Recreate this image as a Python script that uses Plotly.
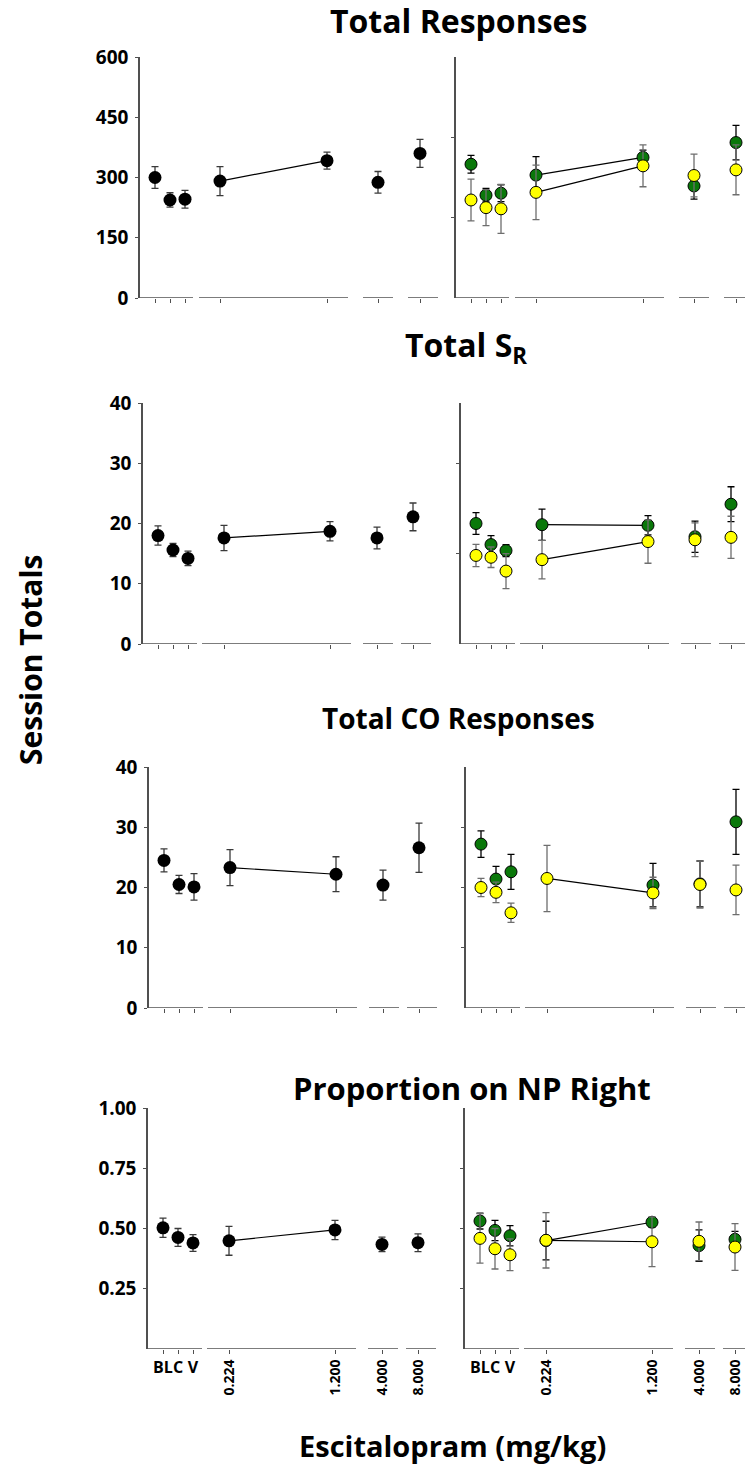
import plotly.graph_objects as go

W, H = 745, 1475

# ---------------- data ----------------
categories = ["BL", "C", "V", "0.224", "1.200", "4.000", "8.000"]
base_labels = categories[:3]
dose_labels = categories[3:]

panel_titles = ["Total Responses", "Total S<sub>R</sub>", "Total CO Responses", "Proportion on NP Right"]

# Total Responses
resp_black = [300, 244, 246, 291, 342, 288, 360]
resp_black_err = [27, 18, 22, 36, 21, 27, 35]
resp_green = [333, 256, 261, 306, 350, 279, 387]
resp_green_err = [22, 17, 21, 46, 18, 33, 43]
resp_yellow = [244, 225, 222, 263, 329, 305, 319]
resp_yellow_err = [52, 45, 61, 68, 52, 53, 62]

# Total SR
sr_black = [18.0, 15.6, 14.2, 17.6, 18.7, 17.6, 21.1]
sr_black_err = [1.6, 1.1, 1.2, 2.1, 1.6, 1.8, 2.3]
sr_green = [20.0, 16.5, 15.5, 19.8, 19.7, 17.8, 23.2]
sr_green_err = [1.8, 1.5, 1.0, 2.6, 1.6, 2.6, 2.9]
sr_yellow = [14.7, 14.4, 12.1, 14.0, 17.0, 17.3, 17.7]
sr_yellow_err = [1.85, 1.7, 2.9, 3.2, 3.6, 2.8, 3.5]

# Total CO Responses
co_black = [24.5, 20.5, 20.1, 23.3, 22.2, 20.4, 26.6]
co_black_err = [1.9, 1.5, 2.2, 3.0, 2.9, 2.5, 4.1]
co_green = [27.2, 21.4, 22.6, None, 20.4, 20.6, 30.9]
co_green_err = [2.2, 2.1, 2.9, 0, 3.6, 3.8, 5.4]
co_yellow = [20.0, 19.2, 15.8, 21.5, 19.1, 20.5, 19.6]
co_yellow_err = [1.5, 1.7, 1.6, 5.5, 2.6, 3.9, 4.1]

# Proportion on NP Right
np_black = [0.503, 0.463, 0.440, 0.449, 0.494, 0.434, 0.441]
np_black_err = [0.04, 0.037, 0.035, 0.06, 0.04, 0.03, 0.037]
np_green = [0.531, 0.492, 0.470, 0.450, 0.526, 0.429, 0.455]
np_green_err = [0.033, 0.042, 0.042, 0.08, 0.02, 0.065, 0.033]
np_yellow = [0.459, 0.416, 0.391, 0.451, 0.445, 0.447, 0.423]
np_yellow_err = [0.103, 0.084, 0.066, 0.115, 0.103, 0.08, 0.097]

# y-axis scales
y_ranges = [[0, 600], [0, 40], [0, 40], [0, 1.0]]
left_tickvals = [[0, 150, 300, 450, 600], [0, 10, 20, 30, 40], [0, 10, 20, 30, 40], [0.25, 0.5, 0.75, 1.0]]
left_ticktext = [["0", "150", "300", "450", "600"], ["0", "10", "20", "30", "40"],
                 ["0", "10", "20", "30", "40"], ["0.25", "0.50", "0.75", "1.00"]]
right_tickvals = [[200, 400], [15, 30], [10, 20, 30], [0.25, 0.5, 0.75]]

series = [
    (resp_black, resp_black_err, resp_green, resp_green_err, resp_yellow, resp_yellow_err),
    (sr_black, sr_black_err, sr_green, sr_green_err, sr_yellow, sr_yellow_err),
    (co_black, co_black_err, co_green, co_green_err, co_yellow, co_yellow_err),
    (np_black, np_black_err, np_green, np_green_err, np_yellow, np_yellow_err),
]

# ---------------- layout geometry (pixels) ----------------
LEFT_X = [140, 143, 149, 148]
RIGHT_X = [456, 461, 466, 465]
ROW_TOP = [57, 403, 767, 1108]
ROW_BOT = [298, 644, 1008, 1349]
CAT_POS = [[15, 30, 45, 80, 187, 238, 280]] + [[15, 30, 45, 81, 187, 234, 270]] * 3
SEGS = [[(0, 53), (59, 208), (223, 253), (268, 298)]] + [[(0, 54), (59, 208), (220, 250), (258, 288)]] * 3
TITLE_POS = [(458, 20), (466, 347), (458, 718), (472, 1088)]
TITLE_SIZE = [32, 32, 28, 31]

FONT = "Open Sans"
GREEN = "#0a780a"
YELLOW = "#ffff00"
AXIS_COL = "#505050"

fig = go.Figure()
layout = dict(
    template="none",
    width=W, height=H, margin=dict(l=0, r=0, t=0, b=0, pad=0, autoexpand=False),
    paper_bgcolor="white", plot_bgcolor="rgba(0,0,0,0)",
    showlegend=False, shapes=[], annotations=[],
    font=dict(family=FONT, color="black"),
)


def px_x(p):
    return p / W


def px_y(p):
    return 1 - p / H


for i in range(4):
    black, black_err, green, green_err, yellow, yellow_err = series[i]
    pos = CAT_POS[i]
    ydom = [px_y(ROW_BOT[i]), px_y(ROW_TOP[i])]
    for side in range(2):
        n = 2 * i + side + 1
        xa = "x" if n == 1 else f"x{n}"
        ya = "y" if n == 1 else f"y{n}"
        if side == 0:
            x0 = LEFT_X[i]
            xdom = [px_x(x0), px_x(x0 + 300)]
            xrange = [0, 300]
        else:
            x0 = RIGHT_X[i]
            xdom = [px_x(x0), 1.0]
            xrange = [0, W - x0]

        bottom = (i == 3)
        xaxis = dict(domain=xdom, range=xrange, anchor=ya, showgrid=False, zeroline=False,
                     showline=False, ticks="outside", ticklen=4, tickwidth=1, tickcolor=AXIS_COL,
                     tickvals=pos if not bottom else pos[:3],
                     ticktext=categories if not bottom else base_labels,
                     showticklabels=bottom, tickangle=0, automargin=False,
                     tickfont=dict(family=FONT, size=16, weight=700, color="black"),
                     fixedrange=True)
        yaxis = dict(domain=ydom, range=y_ranges[i], anchor=xa, showgrid=False, zeroline=False,
                     showline=True, linecolor=AXIS_COL, linewidth=1.5,
                     ticks="outside", ticklen=3, tickcolor=AXIS_COL, automargin=False,
                     tickvals=left_tickvals[i] if side == 0 else right_tickvals[i],
                     showticklabels=(side == 0),
                     tickfont=dict(family=FONT, size=19, weight=700, color="black"),
                     ticklabelstandoff=3, fixedrange=True)
        if side == 0:
            yaxis["ticktext"] = left_ticktext[i]
        layout["xaxis" if n == 1 else f"xaxis{n}"] = xaxis
        layout["yaxis" if n == 1 else f"yaxis{n}"] = yaxis

        if bottom:
            m = 9 + side
            layout[f"xaxis{m}"] = dict(domain=xdom, range=xrange, anchor=ya, overlaying=xa,
                                       side="bottom", automargin=False,
                                       showgrid=False, zeroline=False, showline=False,
                                       ticks="outside", ticklen=4, tickwidth=1, tickcolor=AXIS_COL,
                                       tickvals=pos[3:], ticktext=dose_labels, tickangle=-90,
                                       tickfont=dict(family=FONT, size=14, weight=700, color="black"),
                                       fixedrange=True)
            # invisible carrier trace so the overlaid dose axis is drawn
            fig.add_trace(go.Scatter(x=pos[3:], y=black[3:], mode="markers",
                                     marker=dict(size=1, opacity=0), xaxis=f"x{m}", yaxis=ya,
                                     hoverinfo="skip"))

        # broken x-axis segments
        for (a, b) in SEGS[i]:
            layout["shapes"].append(dict(type="line", xref=xa, yref=ya, x0=a, x1=b,
                                         y0=y_ranges[i][0], y1=y_ranges[i][0],
                                         line=dict(color=AXIS_COL, width=1.5)))

        groups = [(black, black_err, "black", "#3a3a3a", 0)] if side == 0 else \
                 [(green, green_err, GREEN, "black", 1), (yellow, yellow_err, YELLOW, "#6e6e6e", 1)]

        # connecting lines 0.224 -> 1.200
        for vals, errs, col, ecol, lw in groups:
            if vals[3] is not None and vals[4] is not None:
                fig.add_trace(go.Scatter(x=[pos[3], pos[4]], y=[vals[3], vals[4]], mode="lines",
                                         line=dict(color="black", width=1.2), xaxis=xa, yaxis=ya,
                                         hoverinfo="skip", cliponaxis=False))
        for vals, errs, col, ecol, lw in groups:
            fig.add_trace(go.Scatter(
                x=pos, y=vals, mode="markers", xaxis=xa, yaxis=ya, cliponaxis=False,
                marker=dict(color=col, size=13 if side == 0 else 12,
                            line=dict(color="black", width=lw)),
                error_y=dict(type="data", array=errs, visible=True, color=ecol,
                             thickness=1.3, width=3.5),
            ))

    tx, ty = TITLE_POS[i]
    layout["annotations"].append(dict(text=panel_titles[i], xref="paper", yref="paper",
                                      x=px_x(tx), y=px_y(ty), xanchor="center", yanchor="middle",
                                      showarrow=False,
                                      font=dict(family=FONT, size=TITLE_SIZE[i], weight=700, color="black")))

layout["annotations"].append(dict(text="Session Totals", xref="paper", yref="paper",
                                  x=px_x(30), y=px_y(660), xanchor="center", yanchor="middle",
                                  textangle=-90, showarrow=False,
                                  font=dict(family=FONT, size=30, weight=700, color="black")))
layout["annotations"].append(dict(text="Escitalopram (mg/kg)", xref="paper", yref="paper",
                                  x=px_x(452), y=px_y(1445), xanchor="center", yanchor="middle",
                                  showarrow=False,
                                  font=dict(family=FONT, size=29, weight=700, color="black")))

fig.update_layout(**layout)
fig.write_html("out.html", config={"displayModeBar": False},
               post_script="document.body.style.margin='0';document.body.style.overflow='hidden';")
